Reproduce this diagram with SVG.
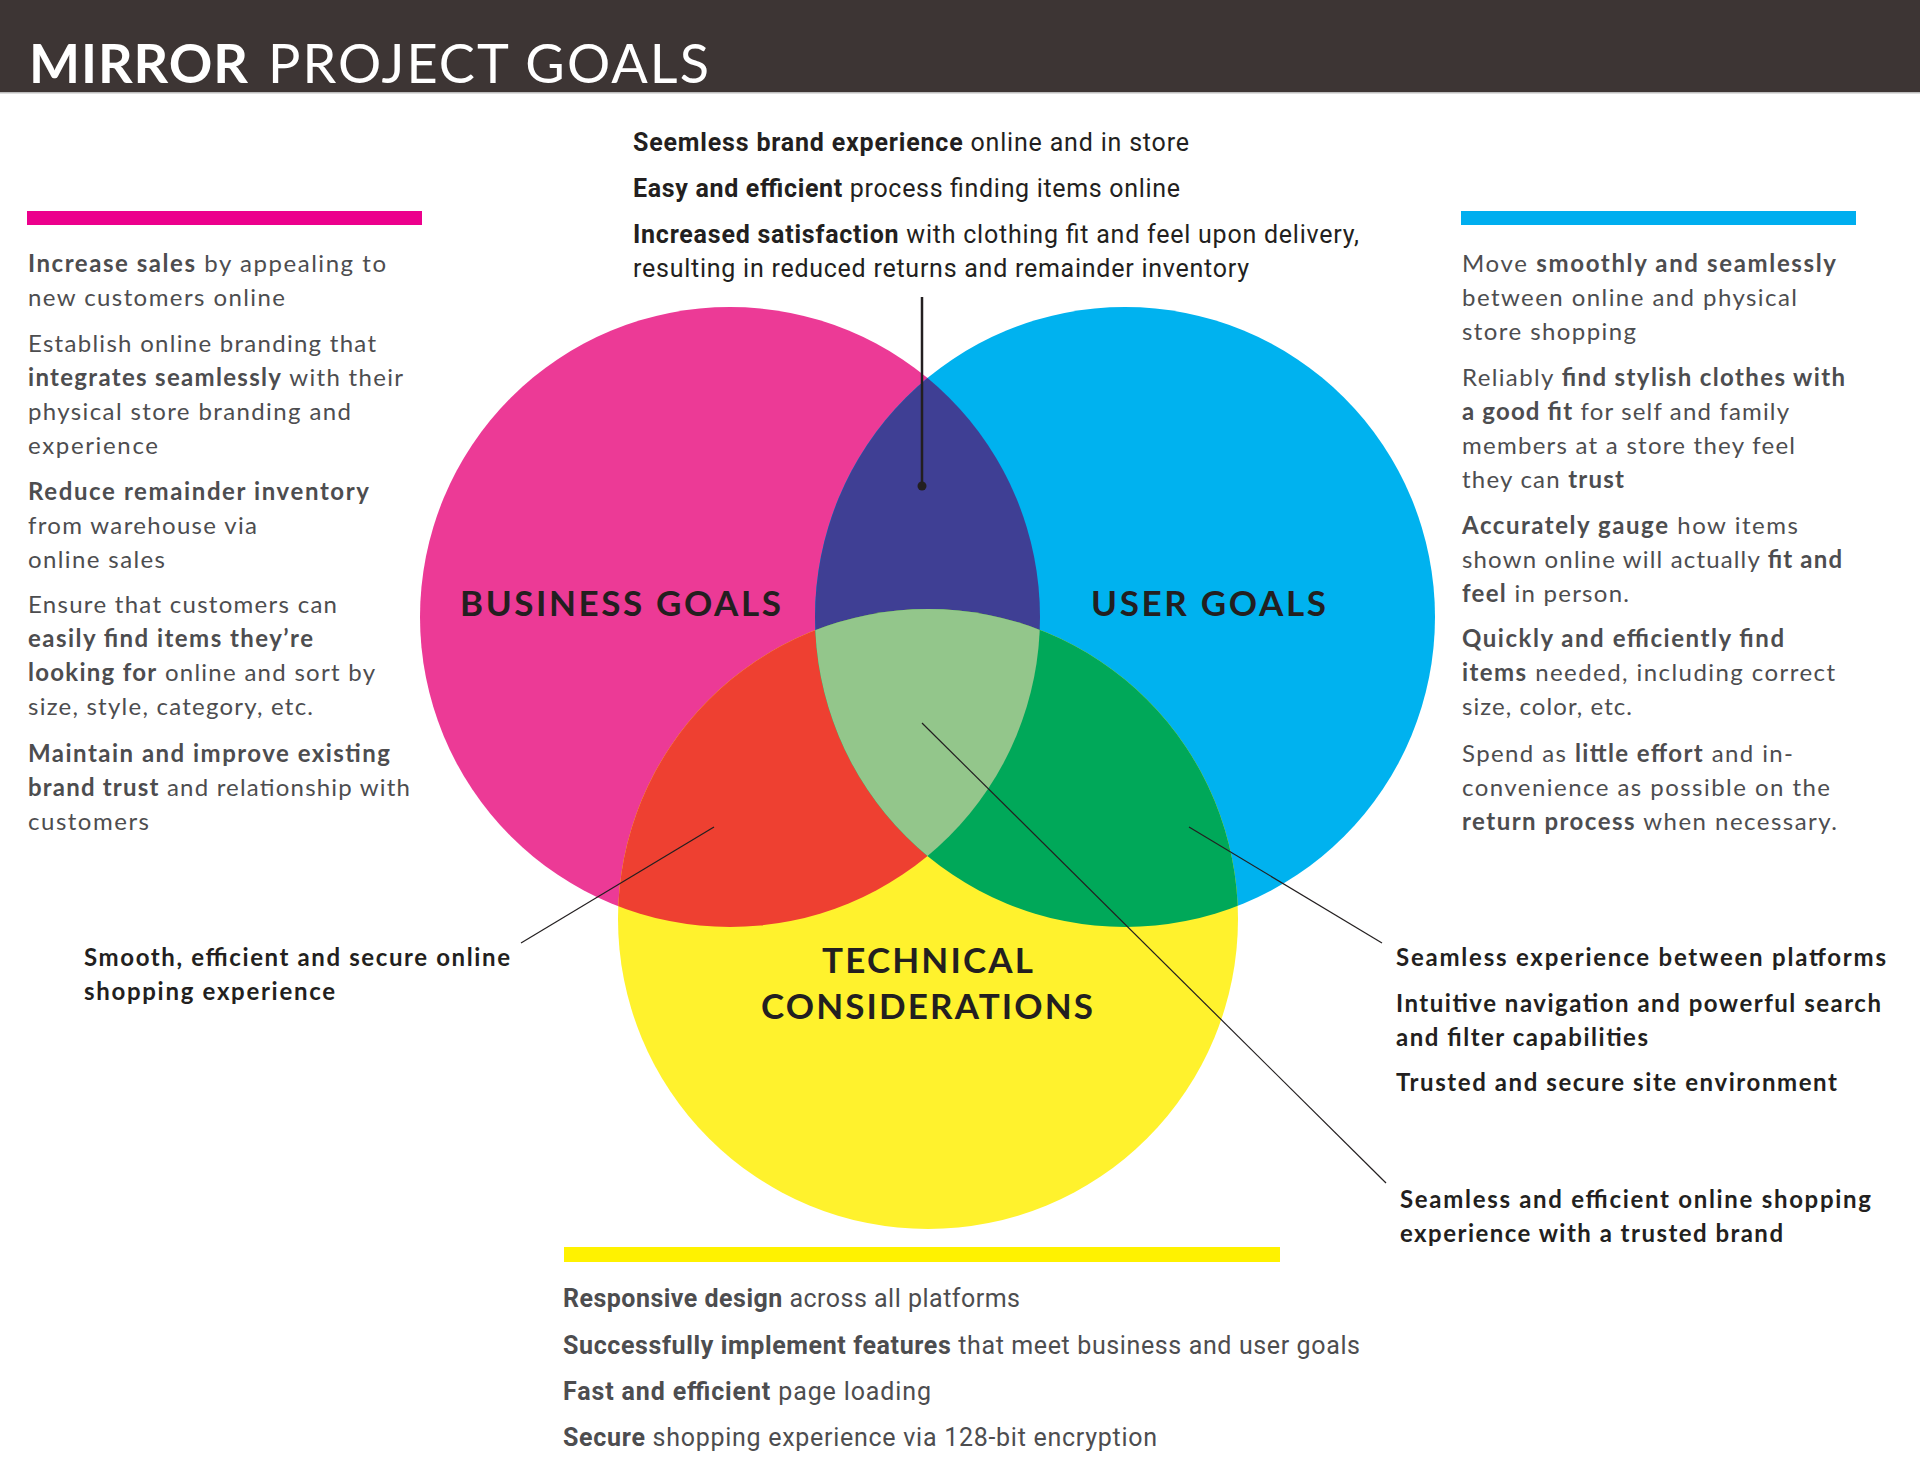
<svg xmlns="http://www.w3.org/2000/svg" width="1920" height="1484" viewBox="0 0 1920 1484">
<style>
.t{font-family:Lato,"Liberation Sans",sans-serif;font-size:24px;fill:#4d4d4f}
.c{font-family:Roboto,"Liberation Sans",sans-serif;font-size:25px}
.k{fill:#231f20}
.b{font-weight:700}
.lbl{font-family:Lato,"Liberation Sans",sans-serif;font-size:35px;font-weight:700;fill:#231f20}
.ttl{font-family:Lato,"Liberation Sans",sans-serif;font-size:54px;fill:#ffffff}
.cn{stroke:#231f20;stroke-width:1.2;fill:none}
</style>
<defs>
<clipPath id="cpPink"><circle cx="730" cy="617" r="310"/></clipPath>
<clipPath id="cpBlue"><circle cx="1125" cy="617" r="310"/></clipPath>
</defs>
<rect x="0" y="0" width="1920" height="1484" fill="#ffffff"/>
<g id="header">
<rect x="0" y="0" width="1920" height="92" fill="#3d3534"/>
<rect x="0" y="92" width="1920" height="1.5" fill="#bdbdbd"/>
<text class="ttl" y="83"><tspan x="29" font-weight="700" textLength="219" lengthAdjust="spacing">MIRROR</tspan><tspan x="268" textLength="441" lengthAdjust="spacing">PROJECT GOALS</tspan></text>
</g>
<g id="venn">
<g id="business-goals"><circle cx="730" cy="617" r="310" fill="#ec3a96"/></g>
<g id="user-goals"><circle cx="1125" cy="617" r="310" fill="#00b2ef"/></g>
<g id="technical-considerations"><circle cx="928" cy="919" r="310" fill="#fff22d"/></g>
<g id="business-user"><circle cx="1125" cy="617" r="310" fill="#3f3f94" clip-path="url(#cpPink)"/></g>
<g id="business-technical"><circle cx="928" cy="919" r="310" fill="#ee4031" clip-path="url(#cpPink)"/></g>
<g id="user-technical"><circle cx="928" cy="919" r="310" fill="#00a859" clip-path="url(#cpBlue)"/></g>
<g id="all-three" clip-path="url(#cpBlue)"><circle cx="928" cy="919" r="310" fill="#93c68b" clip-path="url(#cpPink)"/></g>
<text class="lbl" x="460" y="616" textLength="321" lengthAdjust="spacing">BUSINESS GOALS</text>
<text class="lbl" x="1091" y="616" textLength="235" lengthAdjust="spacing">USER GOALS</text>
<text class="lbl" x="822" y="973" textLength="211" lengthAdjust="spacing">TECHNICAL</text>
<text class="lbl" x="761" y="1019" textLength="332" lengthAdjust="spacing">CONSIDERATIONS</text>
</g>
<g id="connectors">
<line x1="922" y1="297" x2="922" y2="486" stroke="#231f20" stroke-width="2.5"/>
<circle cx="922" cy="486" r="4.5" fill="#231f20"/>
<line class="cn" x1="714" y1="827" x2="521" y2="943"/>
<line class="cn" x1="1189" y1="827" x2="1382" y2="943"/>
<line class="cn" x1="922" y1="723" x2="1386" y2="1183"/>
</g>
<g id="business-list">
<rect x="27" y="211" width="395" height="14" fill="#ec008c"/>
<text class="t" x="28" y="272" textLength="358" lengthAdjust="spacing"><tspan class="b">Increase sales</tspan> by appealing to</text>
<text class="t" x="28" y="306" textLength="257" lengthAdjust="spacing">new customers online</text>
<text class="t" x="28" y="352" textLength="348" lengthAdjust="spacing">Establish online branding that</text>
<text class="t" x="28" y="386" textLength="375" lengthAdjust="spacing"><tspan class="b">integrates seamlessly</tspan> with their</text>
<text class="t" x="28" y="420" textLength="323" lengthAdjust="spacing">physical store branding and</text>
<text class="t" x="28" y="454" textLength="130" lengthAdjust="spacing">experience</text>
<text class="t b" x="28" y="500" textLength="341" lengthAdjust="spacing">Reduce remainder inventory</text>
<text class="t" x="28" y="534" textLength="229" lengthAdjust="spacing">from warehouse via</text>
<text class="t" x="28" y="568" textLength="137" lengthAdjust="spacing">online sales</text>
<text class="t" x="28" y="613" textLength="309" lengthAdjust="spacing">Ensure that customers can</text>
<text class="t b" x="28" y="647" textLength="285" lengthAdjust="spacing">easily find items they’re</text>
<text class="t" x="28" y="681" textLength="347" lengthAdjust="spacing"><tspan class="b">looking for</tspan> online and sort by</text>
<text class="t" x="28" y="715" textLength="285" lengthAdjust="spacing">size, style, category, etc.</text>
<text class="t b" x="28" y="762" textLength="362" lengthAdjust="spacing">Maintain and improve existing</text>
<text class="t" x="28" y="796" textLength="382" lengthAdjust="spacing"><tspan class="b">brand trust</tspan> and relationship with</text>
<text class="t" x="28" y="830" textLength="121" lengthAdjust="spacing">customers</text>
</g>
<g id="user-list">
<rect x="1461" y="211" width="395" height="14" fill="#00aeef"/>
<text class="t" x="1462" y="272" textLength="374" lengthAdjust="spacing">Move <tspan class="b">smoothly and seamlessly</tspan></text>
<text class="t" x="1462" y="306" textLength="335" lengthAdjust="spacing">between online and physical</text>
<text class="t" x="1462" y="340" textLength="174" lengthAdjust="spacing">store shopping</text>
<text class="t" x="1462" y="386" textLength="383" lengthAdjust="spacing">Reliably <tspan class="b">find stylish clothes with</tspan></text>
<text class="t" x="1462" y="420" textLength="327" lengthAdjust="spacing"><tspan class="b">a good fit</tspan> for self and family</text>
<text class="t" x="1462" y="454" textLength="333" lengthAdjust="spacing">members at a store they feel</text>
<text class="t" x="1462" y="488" textLength="162" lengthAdjust="spacing">they can <tspan class="b">trust</tspan></text>
<text class="t" x="1462" y="534" textLength="336" lengthAdjust="spacing"><tspan class="b">Accurately gauge</tspan> how items</text>
<text class="t" x="1462" y="568" textLength="380" lengthAdjust="spacing">shown online will actually <tspan class="b">fit and</tspan></text>
<text class="t" x="1462" y="602" textLength="167" lengthAdjust="spacing"><tspan class="b">feel</tspan> in person.</text>
<text class="t b" x="1462" y="647" textLength="322" lengthAdjust="spacing">Quickly and efficiently find</text>
<text class="t" x="1462" y="681" textLength="373" lengthAdjust="spacing"><tspan class="b">items</tspan> needed, including correct</text>
<text class="t" x="1462" y="715" textLength="170" lengthAdjust="spacing">size, color, etc.</text>
<text class="t" x="1462" y="762" textLength="331" lengthAdjust="spacing">Spend as <tspan class="b">little effort</tspan> and in-</text>
<text class="t" x="1462" y="796" textLength="368" lengthAdjust="spacing">convenience as possible on the</text>
<text class="t" x="1462" y="830" textLength="375" lengthAdjust="spacing"><tspan class="b">return process</tspan> when necessary.</text>
</g>
<g id="shared-business-user">
<text class="t c k" x="633" y="151" textLength="556" lengthAdjust="spacing"><tspan class="b">Seemless brand experience</tspan> online and in store</text>
<text class="t c k" x="633" y="197" textLength="547" lengthAdjust="spacing"><tspan class="b">Easy and efficient</tspan> process finding items online</text>
<text class="t c k" x="633" y="243" textLength="726" lengthAdjust="spacing"><tspan class="b">Increased satisfaction</tspan> with clothing fit and feel upon delivery,</text>
<text class="t c k" x="633" y="277" textLength="616" lengthAdjust="spacing">resulting in reduced returns and remainder inventory</text>
</g>
<g id="technical-list">
<rect x="564" y="1247" width="716" height="15" fill="#fff200"/>
<text class="t c" x="563" y="1307" textLength="457" lengthAdjust="spacing"><tspan class="b">Responsive design</tspan> across all platforms</text>
<text class="t c" x="563" y="1354" textLength="797" lengthAdjust="spacing"><tspan class="b">Successfully implement features</tspan> that meet business and user goals</text>
<text class="t c" x="563" y="1400" textLength="368" lengthAdjust="spacing"><tspan class="b">Fast and efficient</tspan> page loading</text>
<text class="t c" x="563" y="1446" textLength="594" lengthAdjust="spacing"><tspan class="b">Secure</tspan> shopping experience via 128-bit encryption</text>
</g>
<g id="shared-business-technical">
<text class="t k b" x="84" y="966" textLength="426" lengthAdjust="spacing">Smooth, efficient and secure online</text>
<text class="t k b" x="84" y="1000" textLength="251" lengthAdjust="spacing">shopping experience</text>
</g>
<g id="shared-user-technical">
<text class="t k b" x="1396" y="966" textLength="490" lengthAdjust="spacing">Seamless experience between platforms</text>
<text class="t k b" x="1396" y="1012" textLength="485" lengthAdjust="spacing">Intuitive navigation and powerful search</text>
<text class="t k b" x="1396" y="1046" textLength="252" lengthAdjust="spacing">and filter capabilities</text>
<text class="t k b" x="1396" y="1091" textLength="441" lengthAdjust="spacing">Trusted and secure site environment</text>
</g>
<g id="shared-all">
<text class="t k b" x="1400" y="1208" textLength="471" lengthAdjust="spacing">Seamless and efficient online shopping</text>
<text class="t k b" x="1400" y="1242" textLength="383" lengthAdjust="spacing">experience with a trusted brand</text>
</g>
</svg>
